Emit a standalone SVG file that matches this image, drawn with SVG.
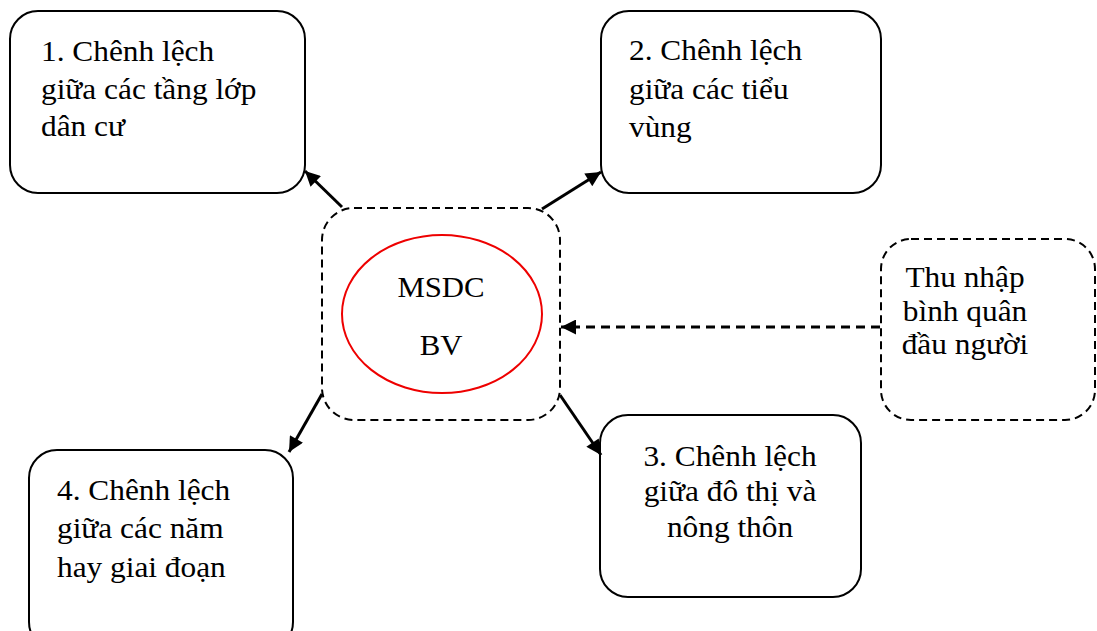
<svg xmlns="http://www.w3.org/2000/svg" width="1097" height="631" viewBox="0 0 1097 631">
<defs>
<style>
.box{fill:#fff;stroke:#000;stroke-width:2}
.dash{fill:#fff;stroke:#000;stroke-width:2;stroke-dasharray:8,5}
.t{font-family:"Liberation Serif","Times New Roman",serif;font-size:28.5px;fill:#000}
.c{text-anchor:middle}
.conn{stroke:#000;stroke-width:3;fill:none}
.conn-d{stroke:#000;stroke-width:3;fill:none;stroke-dasharray:9,6}
</style>
<marker id="ah" viewBox="0 0 10 10" refX="10" refY="5" markerWidth="18" markerHeight="15" markerUnits="userSpaceOnUse" orient="auto">
<path d="M0,0 L10,5 L0,10 z" fill="#000"/>
</marker>
</defs>
<rect width="1097" height="631" fill="#fff"/>
<g id="node-center">
<rect class="dash" x="322" y="208" width="238" height="212" rx="32"/>
<ellipse cx="442" cy="314" rx="100" ry="79" fill="#fff" stroke="#e00" stroke-width="2"/>
<text class="t c" transform="translate(441,297) scale(1.08,1)">MSDC</text>
<text class="t c" transform="translate(441,355) scale(1.08,1)">BV</text>
</g>
<g id="node-1">
<rect class="box" x="10" y="11" width="295" height="182" rx="28"/>
<text class="t" transform="translate(41,61) scale(1.1,1)">1. Chênh lệch</text>
<text class="t" transform="translate(41,99) scale(1.1,1)">giữa các tầng lớp</text>
<text class="t" transform="translate(41,136) scale(1.1,1)">dân cư</text>
</g>
<g id="node-2">
<rect class="box" x="601" y="11" width="280" height="182" rx="28"/>
<text class="t" transform="translate(629,60) scale(1.1,1)">2. Chênh lệch</text>
<text class="t" transform="translate(629,99) scale(1.1,1)">giữa các tiểu</text>
<text class="t" transform="translate(629,137) scale(1.1,1)">vùng</text>
</g>
<g id="node-income">
<rect class="dash" x="881" y="239" width="214" height="181" rx="30"/>
<text class="t c" transform="translate(965,287) scale(1.1,1)">Thu nhập</text>
<text class="t c" transform="translate(965,321) scale(1.1,1)">bình quân</text>
<text class="t c" transform="translate(965,354) scale(1.1,1)">đầu người</text>
</g>
<g id="node-3">
<rect class="box" x="600" y="415" width="261" height="182" rx="28"/>
<text class="t c" transform="translate(730,466) scale(1.1,1)">3. Chênh lệch</text>
<text class="t c" transform="translate(730,501) scale(1.1,1)">giữa đô thị và</text>
<text class="t c" transform="translate(730,537) scale(1.1,1)">nông thôn</text>
</g>
<g id="node-4">
<rect class="box" x="29" y="450" width="264" height="200" rx="28"/>
<text class="t" transform="translate(57,500) scale(1.1,1)">4. Chênh lệch</text>
<text class="t" transform="translate(57,538) scale(1.1,1)">giữa các năm</text>
<text class="t" transform="translate(57,577) scale(1.1,1)">hay giai đoạn</text>
</g>
<g id="connectors">
<line class="conn" x1="342" y1="207" x2="305" y2="171" marker-end="url(#ah)"/>
<line class="conn" x1="542" y1="209" x2="601" y2="172" marker-end="url(#ah)"/>
<line class="conn" x1="322" y1="394" x2="289" y2="452" marker-end="url(#ah)"/>
<line class="conn" x1="560" y1="395" x2="601" y2="455" marker-end="url(#ah)"/>
<line class="conn-d" x1="880" y1="327" x2="561" y2="327" marker-end="url(#ah)"/>
</g>
</svg>
